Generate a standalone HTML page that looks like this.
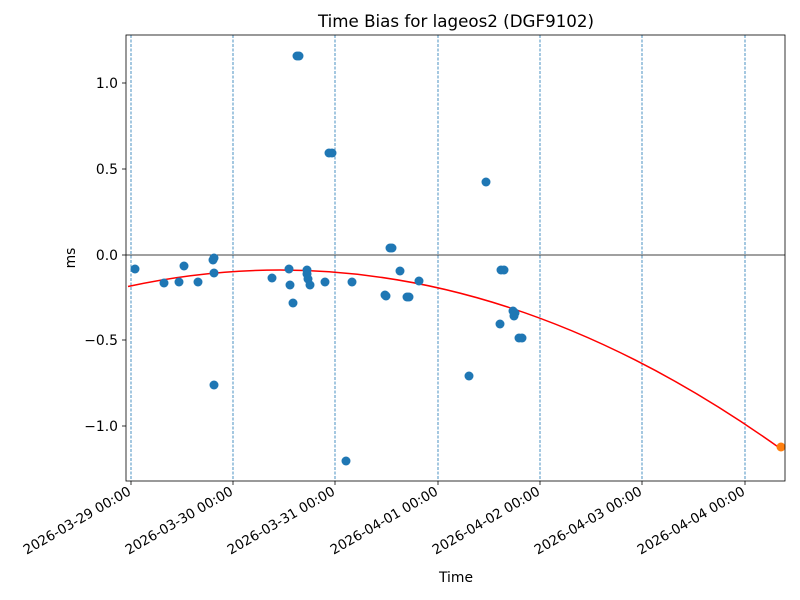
<!DOCTYPE html>
<html><head><meta charset="utf-8"><style>body{margin:0;background:#fff}svg{display:block}text{font-family:"DejaVu Sans","Liberation Sans",sans-serif;fill:#000}</style></head>
<body>
<svg width="800" height="600" viewBox="0 0 800 600" xmlns="http://www.w3.org/2000/svg">
<rect width="800" height="600" fill="#fff"/>
<g stroke="#1f77b4" stroke-width="0.8" stroke-dasharray="3,1.5">
<line x1="131" y1="35" x2="131" y2="481"/><line x1="233" y1="35" x2="233" y2="481"/><line x1="335" y1="35" x2="335" y2="481"/><line x1="438" y1="35" x2="438" y2="481"/><line x1="540" y1="35" x2="540" y2="481"/><line x1="642" y1="35" x2="642" y2="481"/><line x1="745" y1="35" x2="745" y2="481"/>
</g>
<line x1="126" y1="255" x2="785" y2="255" stroke="#000" stroke-width="0.8"/>
<path d="M128,286.5 Q454.5,215.75 781,449" fill="none" stroke="#f00" stroke-width="1.5"/>
<g fill="#1f77b4">
<circle cx="135" cy="269" r="4.5"/><circle cx="164" cy="283" r="4.5"/><circle cx="179" cy="282" r="4.5"/><circle cx="184" cy="266" r="4.5"/><circle cx="198" cy="282" r="4.5"/><circle cx="213" cy="260" r="4.5"/><circle cx="214" cy="258" r="4.5"/><circle cx="214" cy="273" r="4.5"/><circle cx="214" cy="385" r="4.5"/><circle cx="272" cy="278" r="4.5"/><circle cx="289" cy="269" r="4.5"/><circle cx="290" cy="285" r="4.5"/><circle cx="293" cy="303" r="4.5"/><circle cx="297" cy="56" r="4.5"/><circle cx="299" cy="56" r="4.5"/><circle cx="307" cy="270" r="4.5"/><circle cx="307" cy="274" r="4.5"/><circle cx="308" cy="279" r="4.5"/><circle cx="310" cy="285" r="4.5"/><circle cx="325" cy="282" r="4.5"/><circle cx="329" cy="153" r="4.5"/><circle cx="332" cy="153" r="4.5"/><circle cx="346" cy="461" r="4.5"/><circle cx="352" cy="282" r="4.5"/><circle cx="385" cy="295" r="4.5"/><circle cx="386" cy="296" r="4.5"/><circle cx="390" cy="248" r="4.5"/><circle cx="392" cy="248" r="4.5"/><circle cx="400" cy="271" r="4.5"/><circle cx="407" cy="297" r="4.5"/><circle cx="409" cy="297" r="4.5"/><circle cx="419" cy="281" r="4.5"/><circle cx="469" cy="376" r="4.5"/><circle cx="486" cy="182" r="4.5"/><circle cx="500" cy="324" r="4.5"/><circle cx="501" cy="270" r="4.5"/><circle cx="504" cy="270" r="4.5"/><circle cx="513" cy="311" r="4.5"/><circle cx="514" cy="316" r="4.5"/><circle cx="515" cy="313" r="4.5"/><circle cx="519" cy="338" r="4.5"/><circle cx="522" cy="338" r="4.5"/>
</g>
<circle cx="781" cy="447" r="4.5" fill="#ff7f0e"/>
<rect x="126" y="35" width="659" height="446" fill="none" stroke="#000" stroke-width="0.8"/>
<g stroke="#000" stroke-width="0.8">
<line x1="122" y1="83" x2="126" y2="83"/><line x1="122" y1="169" x2="126" y2="169"/><line x1="122" y1="255" x2="126" y2="255"/><line x1="122" y1="340" x2="126" y2="340"/><line x1="122" y1="426" x2="126" y2="426"/>
<line x1="131" y1="481" x2="131" y2="485"/><line x1="233" y1="481" x2="233" y2="485"/><line x1="335" y1="481" x2="335" y2="485"/><line x1="438" y1="481" x2="438" y2="485"/><line x1="540" y1="481" x2="540" y2="485"/><line x1="642" y1="481" x2="642" y2="485"/><line x1="745" y1="481" x2="745" y2="485"/>
</g>
<g font-size="13.9" text-anchor="end">
<text x="118" y="88">1.0</text><text x="118" y="174">0.5</text><text x="118" y="260">0.0</text><text x="118" y="345">−0.5</text><text x="118" y="431">−1.0</text>
</g>
<g font-size="13.5" text-anchor="end">
<text transform="translate(132,494) rotate(-30)">2026-03-29 00:00</text>
<text transform="translate(234,494) rotate(-30)">2026-03-30 00:00</text>
<text transform="translate(336,494) rotate(-30)">2026-03-31 00:00</text>
<text transform="translate(439,494) rotate(-30)">2026-04-01 00:00</text>
<text transform="translate(541,494) rotate(-30)">2026-04-02 00:00</text>
<text transform="translate(643,494) rotate(-30)">2026-04-03 00:00</text>
<text transform="translate(746,494) rotate(-30)">2026-04-04 00:00</text>
</g>
<text x="456" y="582" font-size="13.9" text-anchor="middle">Time</text>
<text transform="translate(75,258) rotate(-90)" font-size="13.9" text-anchor="middle">ms</text>
<text x="456" y="27" font-size="16.7" text-anchor="middle">Time Bias for lageos2 (DGF9102)</text>
</svg>
</body></html>
